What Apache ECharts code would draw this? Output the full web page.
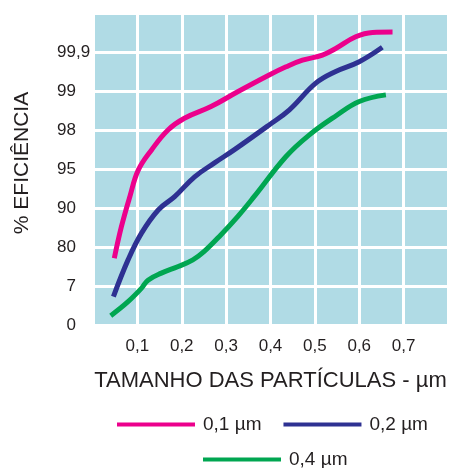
<!DOCTYPE html>
<html>
<head>
<meta charset="utf-8">
<script src="https://cdn.jsdelivr.net/npm/echarts@6/dist/echarts.min.js"></script>
<style>
html,body{margin:0;padding:0;background:#fff;}
#chart{width:451px;height:468px;}
</style>
</head>
<body>
<div id="chart"></div>
<script>
// Y tick labels (evenly spaced positions 0..8)
const yTickLabels = ['0', '7', '80', '90', '95', '98', '99', '99,9', ''];
const xTickLabels = ['', '0,1', '0,2', '0,3', '0,4', '0,5', '0,6', '0,7', ''];
const seriesNames = ['0,1 µm', '0,2 µm', '0,4 µm'];

const pinkX = [0.048, 0.064, 0.083, 0.102, 0.132, 0.169, 0.206, 0.266, 0.326, 0.397, 0.435, 0.472, 0.517, 0.547, 0.592, 0.63, 0.675];
const pinkY = [1.71, 2.52, 3.29, 3.97, 4.49, 5.0, 5.3, 5.6, 5.98, 6.41, 6.62, 6.79, 6.92, 7.09, 7.39, 7.5, 7.51];

const blueX = [0.046, 0.079, 0.109, 0.147, 0.184, 0.229, 0.273, 0.318, 0.397, 0.442, 0.502, 0.547, 0.6, 0.652];
const blueY = [0.73, 1.67, 2.35, 2.95, 3.29, 3.8, 4.15, 4.49, 5.13, 5.51, 6.2, 6.5, 6.75, 7.12];

const greenX = [0.04, 0.079, 0.109, 0.124, 0.154, 0.192, 0.225, 0.25, 0.288, 0.326, 0.363, 0.435, 0.487, 0.547, 0.6, 0.66];
const greenY = [0.24, 0.6, 0.94, 1.15, 1.33, 1.5, 1.67, 1.88, 2.31, 2.78, 3.29, 4.32, 4.87, 5.36, 5.73, 5.9];

const colors = ['#ec008c', '#2e3192', '#00a651'];

function pairs(xs, ys) { return xs.map((x, i) => [x, ys[i]]); }

const chart = echarts.init(document.getElementById('chart'));
const textColor = '#231f20';
const font = 'Liberation Sans, Arial, sans-serif';

chart.setOption({
  animation: false,
  textStyle: { fontFamily: font },
  grid: {
    left: 93, right: 2, top: 13, bottom: 143,
    show: true, backgroundColor: '#b0dbe5', borderWidth: 0
  },
  xAxis: {
    type: 'value', min: 0, max: 0.8, interval: 0.1,
    name: 'TAMANHO DAS PARTÍCULAS - µm',
    nameLocation: 'middle', nameGap: 45,
    nameTextStyle: { fontSize: 22, color: textColor, fontFamily: font },
    axisLine: { show: false }, axisTick: { show: false },
    axisLabel: {
      fontSize: 17, color: textColor, margin: 13, fontFamily: font,
      formatter: function (v) { return xTickLabels[Math.round(v * 10)] || ''; }
    },
    splitLine: { show: true, lineStyle: { color: '#ffffff', width: 3 } }
  },
  yAxis: {
    type: 'value', min: 0, max: 8, interval: 1,
    name: '% EFICIÊNCIA',
    nameLocation: 'middle', nameGap: 60, nameRotate: 90,
    nameTextStyle: { fontSize: 21, color: textColor, fontFamily: font, padding: [0, 0, 0, 12] },
    axisLine: { show: false }, axisTick: { show: false },
    axisLabel: {
      fontSize: 17, color: textColor, margin: 17, fontFamily: font,
      formatter: function (v) {
        const s = yTickLabels[Math.round(v)] || '';
        return s.length > 2 ? '{w|' + s + '}' : s;
      },
      rich: {
        w: { width: 19, align: 'left', fontSize: 17, color: textColor, fontFamily: font, overflow: 'none' }
      }
    },
    splitLine: { show: true, lineStyle: { color: '#ffffff', width: 3 } }
  },
  legend: [
    {
      data: [seriesNames[0], seriesNames[1]],
      left: 112, top: 410, icon: 'rect', itemWidth: 78, itemHeight: 4,
      itemGap: 22,
      textStyle: { fontSize: 19, color: textColor, fontFamily: font, padding: [0, 0, 0, 3] }
    },
    {
      data: [seriesNames[2]],
      left: 198, top: 445, icon: 'rect', itemWidth: 78, itemHeight: 4,
      textStyle: { fontSize: 19, color: textColor, fontFamily: font, padding: [0, 0, 0, 3] }
    }
  ],
  series: [
    { name: seriesNames[0], type: 'line', smooth: 0.4, symbol: 'none',
      data: pairs(pinkX, pinkY), color: colors[0], lineStyle: { width: 5, color: colors[0] } },
    { name: seriesNames[1], type: 'line', smooth: 0.4, symbol: 'none',
      data: pairs(blueX, blueY), color: colors[1], lineStyle: { width: 5, color: colors[1] } },
    { name: seriesNames[2], type: 'line', smooth: 0.4, symbol: 'none',
      data: pairs(greenX, greenY), color: colors[2], lineStyle: { width: 5, color: colors[2] } }
  ]
});
</script>
</body>
</html>
